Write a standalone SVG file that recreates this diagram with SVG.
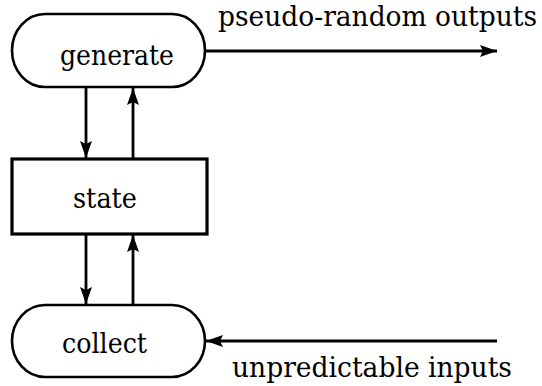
<svg xmlns="http://www.w3.org/2000/svg" width="542" height="386" viewBox="0 0 542 386">
<style>
.node{fill:#fff;stroke:#000;stroke-width:2.6}
.box{fill:#fff;stroke:#000;stroke-width:3.2}
.t{font-family:"DejaVu Serif","Liberation Serif",serif;font-size:27px;fill:#000}
.edge{fill:none;stroke:#000;stroke-width:2.8}
</style>
<defs>
<marker id="ah" markerUnits="userSpaceOnUse" markerWidth="22" markerHeight="16" viewBox="-19 -8 22 16" refX="0" refY="0" orient="auto">
<path d="M0,0 L-17,-6 L-14,0 L-17,6 Z" fill="#000"/>
</marker>
</defs>
<rect width="542" height="386" fill="#fff"/>
<g id="connectors">
<line class="edge" x1="206" y1="51" x2="497" y2="51" marker-end="url(#ah)"/>
<line class="edge" x1="497" y1="341" x2="206" y2="341" marker-end="url(#ah)"/>
<line class="edge" x1="86" y1="88" x2="86" y2="158" marker-end="url(#ah)"/>
<line class="edge" x1="133" y1="158" x2="133" y2="88" marker-end="url(#ah)"/>
<line class="edge" x1="86" y1="235" x2="86" y2="304" marker-end="url(#ah)"/>
<line class="edge" x1="133" y1="304" x2="133" y2="235" marker-end="url(#ah)"/>
</g>
<g id="generate">
<rect class="node" x="12" y="14" width="193" height="73" rx="33" ry="36.5"/>
<text class="t" x="60" y="65" textLength="114" lengthAdjust="spacingAndGlyphs">generate</text>
</g>
<g id="state">
<rect class="box" x="12" y="159" width="195" height="75"/>
<text class="t" x="73" y="208" textLength="64" lengthAdjust="spacingAndGlyphs">state</text>
</g>
<g id="collect">
<rect class="node" x="12" y="305" width="193" height="72" rx="33" ry="36"/>
<text class="t" x="62" y="353" textLength="85" lengthAdjust="spacingAndGlyphs">collect</text>
</g>
<g id="labels">
<text class="t" x="218" y="26" textLength="319" lengthAdjust="spacingAndGlyphs">pseudo-random outputs</text>
<text class="t" x="232" y="377" textLength="280" lengthAdjust="spacingAndGlyphs">unpredictable inputs</text>
</g>
</svg>
